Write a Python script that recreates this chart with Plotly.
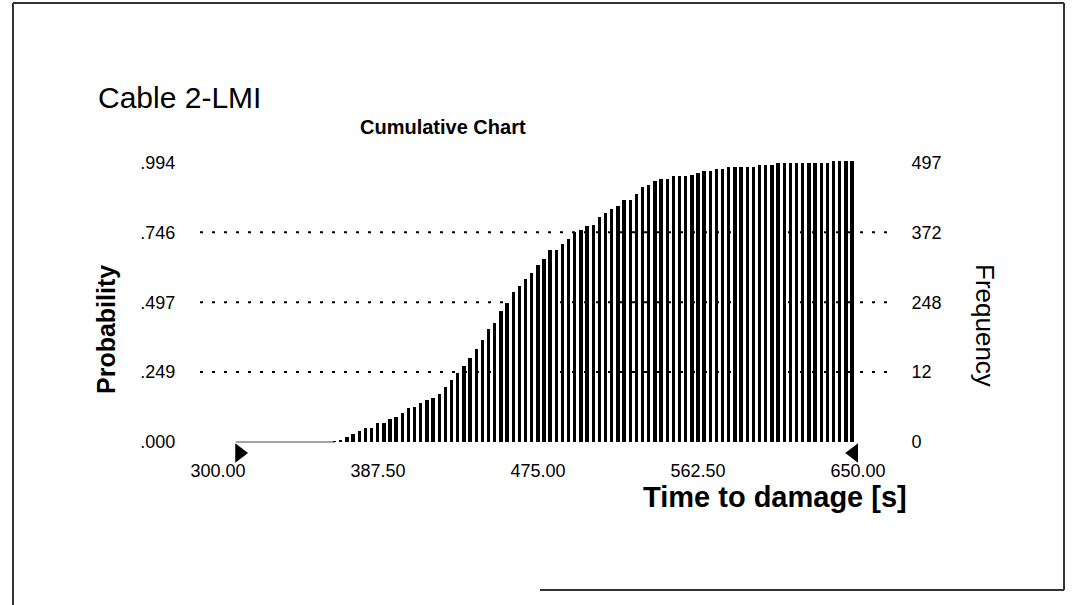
import plotly.graph_objects as go

# ---------------- data ----------------
bin_width = 3.5                       # seconds per group
first_bin_edge = 356.0                 # right edge of first visible bar
cum_prob = [
    0.002, 0.007, 0.018, 0.028, 0.039, 0.049, 0.049, 0.067, 0.067, 0.081,
    0.088, 0.102, 0.120, 0.124, 0.138, 0.148, 0.155,
    0.170, 0.194, 0.219, 0.244, 0.272, 0.300, 0.332, 0.364, 0.403, 0.424,
    0.466, 0.495, 0.534, 0.555,
    0.580, 0.601, 0.629, 0.650, 0.682, 0.682, 0.703, 0.724, 0.749, 0.756,
    0.767, 0.774, 0.802, 0.816, 0.830, 0.841,
    0.862, 0.862, 0.883, 0.908, 0.915, 0.929, 0.936, 0.936, 0.947, 0.947,
    0.947, 0.951, 0.958, 0.965, 0.965, 0.972, 0.972, 0.979, 0.979,
    0.979, 0.979, 0.979, 0.986, 0.986, 0.986, 0.993, 0.993, 0.993, 0.993,
    0.993, 0.993, 0.993, 0.993, 0.993, 1.000, 1.000, 1.000, 1.000,
]
times = [first_bin_edge + bin_width * i for i in range(len(cum_prob))]

prob_tickvals = [0, 0.249, 0.497, 0.746, 0.994]
prob_ticktext = [".000", ".249", ".497", ".746", ".994"]
freq_ticktext = ["0", "12", "248", "372", "497"]
trials = 500
x_ticks = [300.0, 387.5, 475.0, 562.5, 650.0]
x_ticktext = ["300.00", "387.50", "475.00", "562.50", "650.00"]
x_min, x_max = 300.0, 650.0

# ---------------- layout geometry (pixels -> paper) ----------------
W, H = 1079, 605
L, R, T, B = 200, 887, 150, 480
ZERO_PX = 442
PX_PER_UNIT = 281.0
px_per_s = (852 - 236) / (x_max - x_min)
xr = [x_min - (236 - L) / px_per_s, x_max + (R - 852) / px_per_s]
lab_px = (858 - 218) / (x_max - x_min)
xr2 = [x_min - (218 - L) / lab_px, x_max + (R - 858) / lab_px]
y_top = (ZERO_PX - T) / PX_PER_UNIT
y_lo = -(B - ZERO_PX) / PX_PER_UNIT
dom_x = [L / W, R / W]
dom_y = [1 - B / H, 1 - T / H]

FONT = "Liberation Sans, Arial, sans-serif"

fig = go.Figure()
fig.add_trace(go.Bar(
    x=times, y=cum_prob, width=1.9,
    marker=dict(color="black", line=dict(width=0)),
    showlegend=False, hoverinfo="skip",
))
# end-point markers (triangles)
fig.add_trace(go.Scatter(
    x=[x_min + 2, x_max + 1], y=[-0.039, -0.039], mode="markers",
    marker=dict(symbol=["triangle-right", "triangle-left"], size=17, color="black"),
    cliponaxis=False, showlegend=False, hoverinfo="skip",
))
# helper traces for secondary axes
fig.add_trace(go.Scatter(x=[x_min, x_max], y=[0, 0], xaxis="x2", yaxis="y",
                         mode="markers", marker=dict(opacity=0), showlegend=False, hoverinfo="skip"))
fig.add_trace(go.Scatter(x=[x_min, x_max], y=[0, 0], xaxis="x", yaxis="y2",
                         mode="markers", marker=dict(opacity=0), showlegend=False, hoverinfo="skip"))

tickfont = dict(family=FONT, size=18, color="black")
fig.update_layout(
    template="none",
    width=W, height=H, autosize=False,
    margin=dict(l=0, r=0, t=0, b=0, pad=0, autoexpand=False),
    paper_bgcolor="white", plot_bgcolor="white",
    bargap=0,
    xaxis=dict(domain=dom_x, range=xr, showgrid=False, zeroline=False, automargin=False,
               showticklabels=False, showline=False, ticks="", anchor="y"),
    xaxis2=dict(domain=dom_x, range=xr2, overlaying="x", side="bottom",
                anchor="free", position=1 - 443 / H,
                tickvals=x_ticks, ticktext=x_ticktext, tickfont=tickfont, automargin=False,
                ticks="outside", ticklen=11, tickcolor="rgba(0,0,0,0)",
                showgrid=False, zeroline=False, showline=False),
    yaxis=dict(domain=dom_y, range=[y_lo, y_top], tickvals=prob_tickvals,
               ticktext=prob_ticktext, tickfont=tickfont, automargin=False,
               ticks="outside", ticklen=20, tickcolor="rgba(0,0,0,0)",
               showgrid=False, zeroline=False, showline=False, anchor="x"),
    yaxis2=dict(domain=dom_y, range=[y_lo * trials, y_top * trials], overlaying="y", side="right",
                anchor="x", tickvals=[v * trials for v in prob_tickvals],
                ticktext=freq_ticktext, tickfont=tickfont, automargin=False,
                ticks="outside", ticklen=20, tickcolor="rgba(0,0,0,0)",
                showgrid=False, zeroline=False, showline=False),
    font=dict(family=FONT, color="black"),
    showlegend=False,
)

# dotted grid lines (below bars)
for v in prob_tickvals[1:4]:
    fig.add_shape(type="line", xref="x domain", yref="y", x0=0, x1=1, y0=v, y1=v,
                  line=dict(color="black", width=2, dash="3px,9px"), layer="below")
# baseline
fig.add_shape(type="line", xref="x", yref="y", x0=x_min, x1=times[0], y0=0, y1=0,
              line=dict(color="#444", width=1), layer="below")

# frame around figure
frame = dict(color="#333", width=2)
fig.add_shape(type="line", xref="paper", yref="paper", x0=13 / W, x1=13 / W, y0=0, y1=1 - 3 / H, line=frame)
fig.add_shape(type="line", xref="paper", yref="paper", x0=13 / W, x1=1064 / W, y0=1 - 3 / H, y1=1 - 3 / H, line=frame)
fig.add_shape(type="line", xref="paper", yref="paper", x0=1064 / W, x1=1064 / W, y0=1 - 3 / H, y1=1 - 590 / H, line=frame)
fig.add_shape(type="line", xref="paper", yref="paper", x0=540 / W, x1=1064 / W, y0=1 - 590 / H, y1=1 - 590 / H, line=frame)

def ann(text, x, y, size, bold=False, angle=0, xanchor="center"):
    fig.add_annotation(text=f"<b>{text}</b>" if bold else text,
                       xref="paper", yref="paper", x=x / W, y=1 - y / H,
                       xanchor=xanchor, yanchor="middle", showarrow=False,
                       textangle=angle, font=dict(family=FONT, size=size, color="black"))

ann("Cable 2-LMI", 96, 97, 30, xanchor="left")
ann("Cumulative Chart", 443, 127, 20, bold=True)
ann("Time to damage [s]", 775, 497, 29, bold=True)
ann("Probability", 106, 330, 25, bold=True, angle=-90)
ann("Frequency", 985, 325, 26, angle=90)

fig.write_html("out.html", config={"displayModeBar": False},
               post_script="document.body.style.margin='0';document.body.style.overflow='hidden';")
